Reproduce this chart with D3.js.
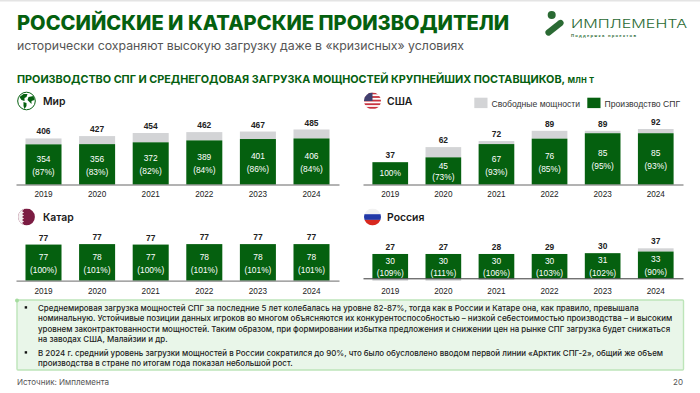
<!DOCTYPE html>
<html>
<head>
<meta charset="utf-8">
<script src="https://cdn.jsdelivr.net/npm/d3@7"></script>
<style>
  html, body { margin: 0; padding: 0; background: #fff; }
  svg { display: block; }
  text { font-family: "Liberation Sans", Arial, sans-serif; }
  .head { font-family: Inter, sans-serif; }
</style>
</head>
<body>
<svg id="chart" width="700" height="393"></svg>
<script>
const years = [2019, 2020, 2021, 2022, 2023, 2024];

const worldTotal = [406, 427, 454, 462, 467, 485];
const worldOutput = [354, 356, 372, 389, 401, 406];
const worldShare = [87, 83, 82, 84, 86, 84];

const usaTotal = [37, 62, 72, 89, 89, 92];
const usaOutput = [37, 45, 67, 76, 85, 85];
const usaShare = [100, 73, 93, 85, 95, 93];

const qatarTotal = [77, 77, 77, 77, 77, 77];
const qatarOutput = [77, 78, 77, 78, 78, 78];
const qatarShare = [100, 101, 100, 101, 101, 101];

const russiaTotal = [27, 27, 28, 29, 30, 37];
const russiaOutput = [30, 30, 30, 30, 31, 33];
const russiaShare = [109, 111, 106, 103, 102, 90];

const noteLines = [
  "Среднемировая загрузка мощностей СПГ за последние 5 лет колебалась на уровне 82-87%, тогда как в России и Катаре она, как правило, превышала",
  "номинальную. Устойчивые позиции данных игроков во многом объясняются их конкурентоспособностью – низкой себестоимостью производства – и высоким",
  "уровнем законтрактованности мощностей. Таким образом, при формировании избытка предложения и снижении цен на рынке СПГ загрузка будет снижаться",
  "на заводах США, Малайзии и др.",
  "В 2024 г. средний уровень загрузки мощностей в России сократился до 90%, что было обусловлено вводом первой линии «Арктик СПГ-2», общий же объем",
  "производства в стране по итогам года показал небольшой рост.",
];

const green = "#05600f";
const grey = "#d3d4d6";

const svg = d3.select("#chart");

// ---------------------------
// Header
// ---------------------------

svg.append("rect").attr("width", 700).attr("height", 1.5).attr("fill", "#e4e4e4");

svg.append("text")
  .attr("class", "head")
  .attr("x", 17).attr("y", 29.5)
  .attr("font-size", 20.1).attr("font-weight", 800)
  .attr("fill", green)
  .text("РОССИЙСКИЕ И КАТАРСКИЕ ПРОИЗВОДИТЕЛИ");

svg.append("text")
  .attr("class", "head")
  .attr("x", 17).attr("y", 49.5)
  .attr("font-size", 12.3)
  .attr("fill", "#555")
  .text("исторически сохраняют высокую загрузку даже в «кризисных» условиях");

const sub = svg.append("text")
  .attr("class", "head")
  .attr("x", 17).attr("y", 83)
  .attr("font-size", 10.8).attr("font-weight", 700)
  .attr("fill", green)
  .text("ПРОИЗВОДСТВО СПГ И СРЕДНЕГОДОВАЯ ЗАГРУЗКА МОЩНОСТЕЙ КРУПНЕЙШИХ ПОСТАВЩИКОВ,");
sub.append("tspan").attr("font-weight", 600).attr("font-size", 9.6).text(" млн т");

// logo
const logo = svg.append("g").attr("fill", "#2a6a33");
logo.append("circle").attr("cx", 551.7).attr("cy", 15).attr("r", 4);
logo.append("line")
  .attr("x1", 548.5).attr("y1", 32.5).attr("x2", 560.5).attr("y2", 23)
  .attr("stroke", "#2a6a33").attr("stroke-width", 6.2).attr("stroke-linecap", "round");
logo.append("text")
  .attr("class", "head")
  .attr("x", 571).attr("y", 28)
  .attr("font-size", 11).attr("font-weight", 300)
  .attr("textLength", 116).attr("lengthAdjust", "spacingAndGlyphs")
  .attr("fill", "#2a6a33")
  .text("ИМПЛЕМЕНТА");
logo.append("text")
  .attr("x", 571).attr("y", 36.5)
  .attr("font-size", 4.2).attr("font-weight", 700)
  .attr("textLength", 65)
  .attr("fill", "#2a6a33")
  .text("Поддержка  проектов");

// ---------------------------
// Panels
// ---------------------------

const panels = [
  { id: "world", title: "Мир", left: 16, right: 339, base: 184.5, height: 55, axis: "#666", axisWidth: 1, pad: 6.3,
    total: worldTotal, output: worldOutput, share: worldShare, titleY: 101 },
  { id: "usa", title: "США", left: 363, right: 683, base: 184.5, height: 55.5, axis: "#666", axisWidth: 1, pad: 6.3,
    total: usaTotal, output: usaOutput, share: usaShare, titleY: 101, onlyShare: 0, tight: 1 },
  { id: "qatar", title: "Катар", left: 16, right: 339, base: 280.7, height: 36.6, axis: "#888", axisWidth: 1.2, pad: 7.4,
    total: qatarTotal, output: qatarOutput, share: qatarShare, titleY: 217 },
  { id: "russia", title: "Россия", left: 363, right: 683, base: 278.3, height: 30, axis: "#222", axisWidth: 0.9, pad: 9.8,
    total: russiaTotal, output: russiaOutput, share: russiaShare, titleY: 217 },
];

panels.forEach((p) => {
  const g = svg.append("g").attr("id", p.id);

  const x = d3.scaleBand()
    .domain(years)
    .range([p.left, p.right])
    .paddingInner(0.328)
    .paddingOuter(0.177);

  const top = d3.max(p.total.concat(p.output));
  const y = d3.scaleLinear().domain([0, top]).range([p.base, p.base - p.height]);

  const rows = years.map((year, i) => ({
    i,
    year,
    total: p.total[i],
    output: p.output[i],
    share: p.share[i],
  }));

  // free capacity sits on top of output, and drops under the axis when load is above 100%
  g.selectAll("rect.free")
    .data(rows)
    .join("rect")
    .attr("class", "free")
    .attr("x", (d) => x(d.year))
    .attr("width", x.bandwidth())
    .attr("y", (d) => (d.total >= d.output ? y(d.total) : p.base))
    .attr("height", (d) =>
      d.total >= d.output ? y(d.output) - y(d.total) : y(d.total) - y(d.output))
    .attr("fill", grey);

  g.selectAll("rect.output")
    .data(rows)
    .join("rect")
    .attr("class", "output")
    .attr("x", (d) => x(d.year))
    .attr("width", x.bandwidth())
    .attr("y", (d) => y(d.output))
    .attr("height", (d) => p.base - y(d.output))
    .attr("fill", green);

  const axis = g.append("g")
    .attr("transform", `translate(0,${p.base})`)
    .call(d3.axisBottom(x).tickSize(0).tickPadding(p.pad));
  axis.select(".domain").attr("stroke", p.axis).attr("stroke-width", p.axisWidth);
  axis.selectAll("text")
    .attr("font-family", "Liberation Sans, Arial, sans-serif")
    .attr("font-size", 8.2)
    .attr("fill", "#222");

  // totals
  g.selectAll("text.total")
    .data(rows)
    .join("text")
    .attr("class", "total")
    .attr("x", (d) => x(d.year) + x.bandwidth() / 2)
    .attr("y", (d) => y(Math.max(d.total, d.output)) - 4)
    .attr("text-anchor", "middle")
    .attr("font-size", 8.4)
    .attr("font-weight", 700)
    .attr("fill", "#222")
    .text((d) => d.total);

  // output value and load share inside the bar
  rows.forEach((d) => {
    const cx = x(d.year) + x.bandwidth() / 2;
    const cy = (y(d.output) + p.base) / 2 + 1;
    const lbl = g.append("g")
      .attr("fill", "#fff")
      .attr("font-size", 8.4)
      .attr("text-anchor", "middle");
    if (p.onlyShare === d.i) {
      lbl.append("text").attr("x", cx).attr("y", cy + 2).text(`${d.share}%`);
      return;
    }
    const gap = p.tight === d.i ? 10.7 : 12.9;
    lbl.append("text").attr("x", cx).attr("y", cy - gap / 2 + 2.9).text(d.output);
    lbl.append("text").attr("x", cx).attr("y", cy + gap / 2 + 2.9).text(`(${d.share}%)`);
  });

  // panel title
  g.append("text")
    .attr("class", "head")
    .attr("x", p.left + (p.left < 100 ? 27 : 24))
    .attr("y", p.titleY + 4)
    .attr("font-size", 10.4)
    .attr("font-weight", 600)
    .attr("fill", "#1a1a1a")
    .text(p.title);
});

// ---------------------------
// Legend
// ---------------------------

const legend = [
  { label: "Свободные мощности", color: grey, x: 474.3 },
  { label: "Производство СПГ", color: green, x: 587.3 },
];

legend.forEach((d) => {
  svg.append("rect")
    .attr("x", d.x).attr("y", 97.7)
    .attr("width", 13.2).attr("height", 10.4)
    .attr("fill", d.color);
  svg.append("text")
    .attr("x", d.x + 17.3).attr("y", 106.8)
    .attr("font-size", 8.6)
    .attr("fill", "#333")
    .text(d.label);
});

// ---------------------------
// Flags
// ---------------------------

const defs = svg.append("defs");
function flagClip(id, cx, cy, r) {
  defs.append("clipPath").attr("id", id)
    .append("circle").attr("cx", cx).attr("cy", cy).attr("r", r);
  return svg.append("g").attr("clip-path", `url(#${id})`);
}

// globe
const globe = svg.append("g").attr("transform", "translate(26.5,101)");
globe.append("circle").attr("r", 8.8).attr("fill", "#fff").attr("stroke", green).attr("stroke-width", 1);
globe.append("path").attr("fill", green)
  .attr("d", "M-7,-4 L-3,-7 L1,-7 L0,-4 L-2,-3 L-2,0 L-5,-1 Z M-3,1 L0,2 L0,5 L-2,8 L-3,5 Z M2,-4 L7,-5 L8,-1 L5,0 L5,3 L3,1 L1,-1 Z");

// USA
const us = flagClip("clip-us", 372.5, 101, 8.5);
us.append("rect").attr("x", 364).attr("y", 92.5).attr("width", 17).attr("height", 17).attr("fill", "#fff");
d3.range(0, 5).forEach((i) => {
  us.append("rect")
    .attr("x", 364).attr("y", 92.5 + i * 3.6)
    .attr("width", 17).attr("height", 1.8)
    .attr("fill", "#c8333f");
});
us.append("rect").attr("x", 364).attr("y", 92.5).attr("width", 8.5).attr("height", 8.5).attr("fill", "#41406f");

// Qatar
const qa = flagClip("clip-qa", 26.5, 217, 8.4);
qa.append("rect").attr("x", 18).attr("y", 208.5).attr("width", 17).attr("height", 17).attr("fill", "#7b1c42");
qa.append("path").attr("fill", "#f4f0f1")
  .attr("d", "M18,208 H22 L24,209.5 L22,211 L24,212.5 L22,214 L24,215.5 L22,217 L24,218.5 L22,220 L24,221.5 L22,223 L24,224.5 L22,226 H18 Z");

// Russia
const ru = flagClip("clip-ru", 372.5, 217, 8.5);
ru.append("rect").attr("x", 364).attr("y", 208.5).attr("width", 17).attr("height", 5.7).attr("fill", "#f1f1f1");
ru.append("rect").attr("x", 364).attr("y", 214.2).attr("width", 17).attr("height", 5.7).attr("fill", "#2239a8");
ru.append("rect").attr("x", 364).attr("y", 219.9).attr("width", 17).attr("height", 5.7).attr("fill", "#d8281f");

// ---------------------------
// Note box and footer
// ---------------------------

svg.append("rect")
  .attr("x", 17).attr("y", 300)
  .attr("width", 666.5).attr("height", 70)
  .attr("rx", 1)
  .attr("fill", "#e9f6e9")
  .attr("stroke", "#bde5b9").attr("stroke-width", 1.4);
svg.append("circle").attr("cx", 17).attr("cy", 300.5).attr("r", 2).attr("fill", "#a5dc9f");

const noteY = [310.5, 321, 331.5, 342, 355.5, 366];

noteLines.forEach((line, i) => {
  svg.append("text")
    .attr("class", "head")
    .attr("x", 38).attr("y", noteY[i])
    .attr("font-size", 7.95)
    .attr("font-weight", 500)
    .attr("fill", "#222")
    .text(line);
});

[0, 4].forEach((i) => {
  svg.append("rect")
    .attr("x", 24.7).attr("y", noteY[i] - 4.3)
    .attr("width", 2.4).attr("height", 2.4)
    .attr("fill", "#111");
});

svg.append("text")
  .attr("class", "head")
  .attr("x", 17).attr("y", 385)
  .attr("font-size", 8).attr("fill", "#555")
  .text("Источник: Имплемента");

svg.append("text")
  .attr("class", "head")
  .attr("x", 683).attr("y", 384.5)
  .attr("text-anchor", "end")
  .attr("font-size", 8).attr("fill", "#555")
  .text("20");
</script>
</body>
</html>
